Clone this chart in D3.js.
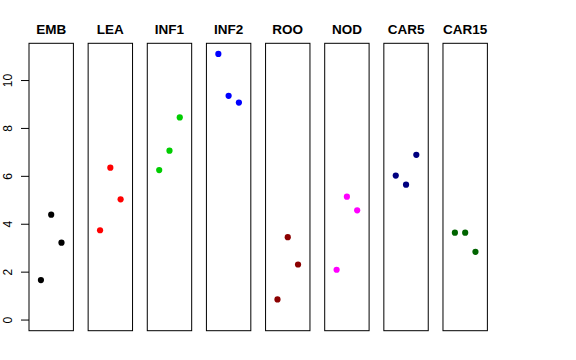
<!DOCTYPE html>
<html>
<head>
<meta charset="utf-8">
<script src="https://cdn.jsdelivr.net/npm/d3@7"></script>
<style>
  body { margin: 0; background: #fff; }
  svg { display: block; font-family: "Liberation Sans", Arial, sans-serif; }
</style>
</head>
<body>
<div id="chart"></div>
<script>
// Panel names, colours and the three values in each panel
const tissues = ['EMB', 'LEA', 'INF1', 'INF2', 'ROO', 'NOD', 'CAR5', 'CAR15'];
const colors = ['#000000', '#FF0000', '#00CD00', '#0000FF', '#8B0000', '#FF00FF', '#000080', '#006400'];
const rep1 = [1.67, 3.75, 6.26, 11.11, 0.86, 2.10, 6.03, 3.65];
const rep2 = [4.40, 6.36, 7.07, 9.36, 3.46, 5.15, 5.65, 3.65];
const rep3 = [3.23, 5.04, 8.46, 9.08, 2.32, 4.58, 6.90, 2.85];
const yTicks = [0, 2, 4, 6, 8, 10];

const width = 576, height = 360;
const plotTop = 43.3, plotBottom = 330.7;
const firstLeft = 29, step = 59.14, panelW = 44.4;

const svg = d3.select('#chart').append('svg')
    .attr('width', width)
    .attr('height', height);

// R-style 4% padding around ylim c(0, max)
const yMax = d3.max([...rep1, ...rep2, ...rep3]);
const pad = yMax * 0.04;
const y = d3.scaleLinear()
    .domain([-pad, yMax + pad])
    .range([plotBottom, plotTop]);

const x = d3.scaleLinear()
    .domain([-0.16, 4.16])
    .range([0, panelW]);

tissues.forEach((name, i) => {
    const left = firstLeft + i * step;
    const g = svg.append('g').attr('transform', `translate(${left},0)`);

    const vals = [rep1[i], rep2[i], rep3[i]];
    g.selectAll('circle')
        .data(vals)
        .enter().append('circle')
        .attr('cx', (d, j) => x(j + 1))
        .attr('cy', d => y(d))
        .attr('r', 3.1)
        .attr('fill', colors[i]);

    g.append('rect')
        .attr('x', 0)
        .attr('y', plotTop)
        .attr('width', panelW)
        .attr('height', plotBottom - plotTop)
        .attr('fill', 'none')
        .attr('stroke', '#000')
        .attr('stroke-width', 1);

    g.append('text')
        .attr('x', panelW / 2)
        .attr('y', 34)
        .attr('text-anchor', 'middle')
        .style('font-size', '13.5px')
        .style('font-weight', 'bold')
        .text(name);
});

// Left axis on first panel
const axis = svg.append('g').attr('transform', `translate(${firstLeft},0)`);
axis.selectAll('line')
    .data(yTicks)
    .enter().append('line')
    .attr('x1', -8)
    .attr('x2', 0)
    .attr('y1', d => y(d))
    .attr('y2', d => y(d))
    .attr('stroke', '#000');

axis.selectAll('text')
    .data(yTicks)
    .enter().append('text')
    .attr('transform', d => `translate(-17,${y(d)}) rotate(-90)`)
    .attr('text-anchor', 'middle')
    .style('font-size', '12px')
    .text(d => d);
</script>
</body>
</html>
